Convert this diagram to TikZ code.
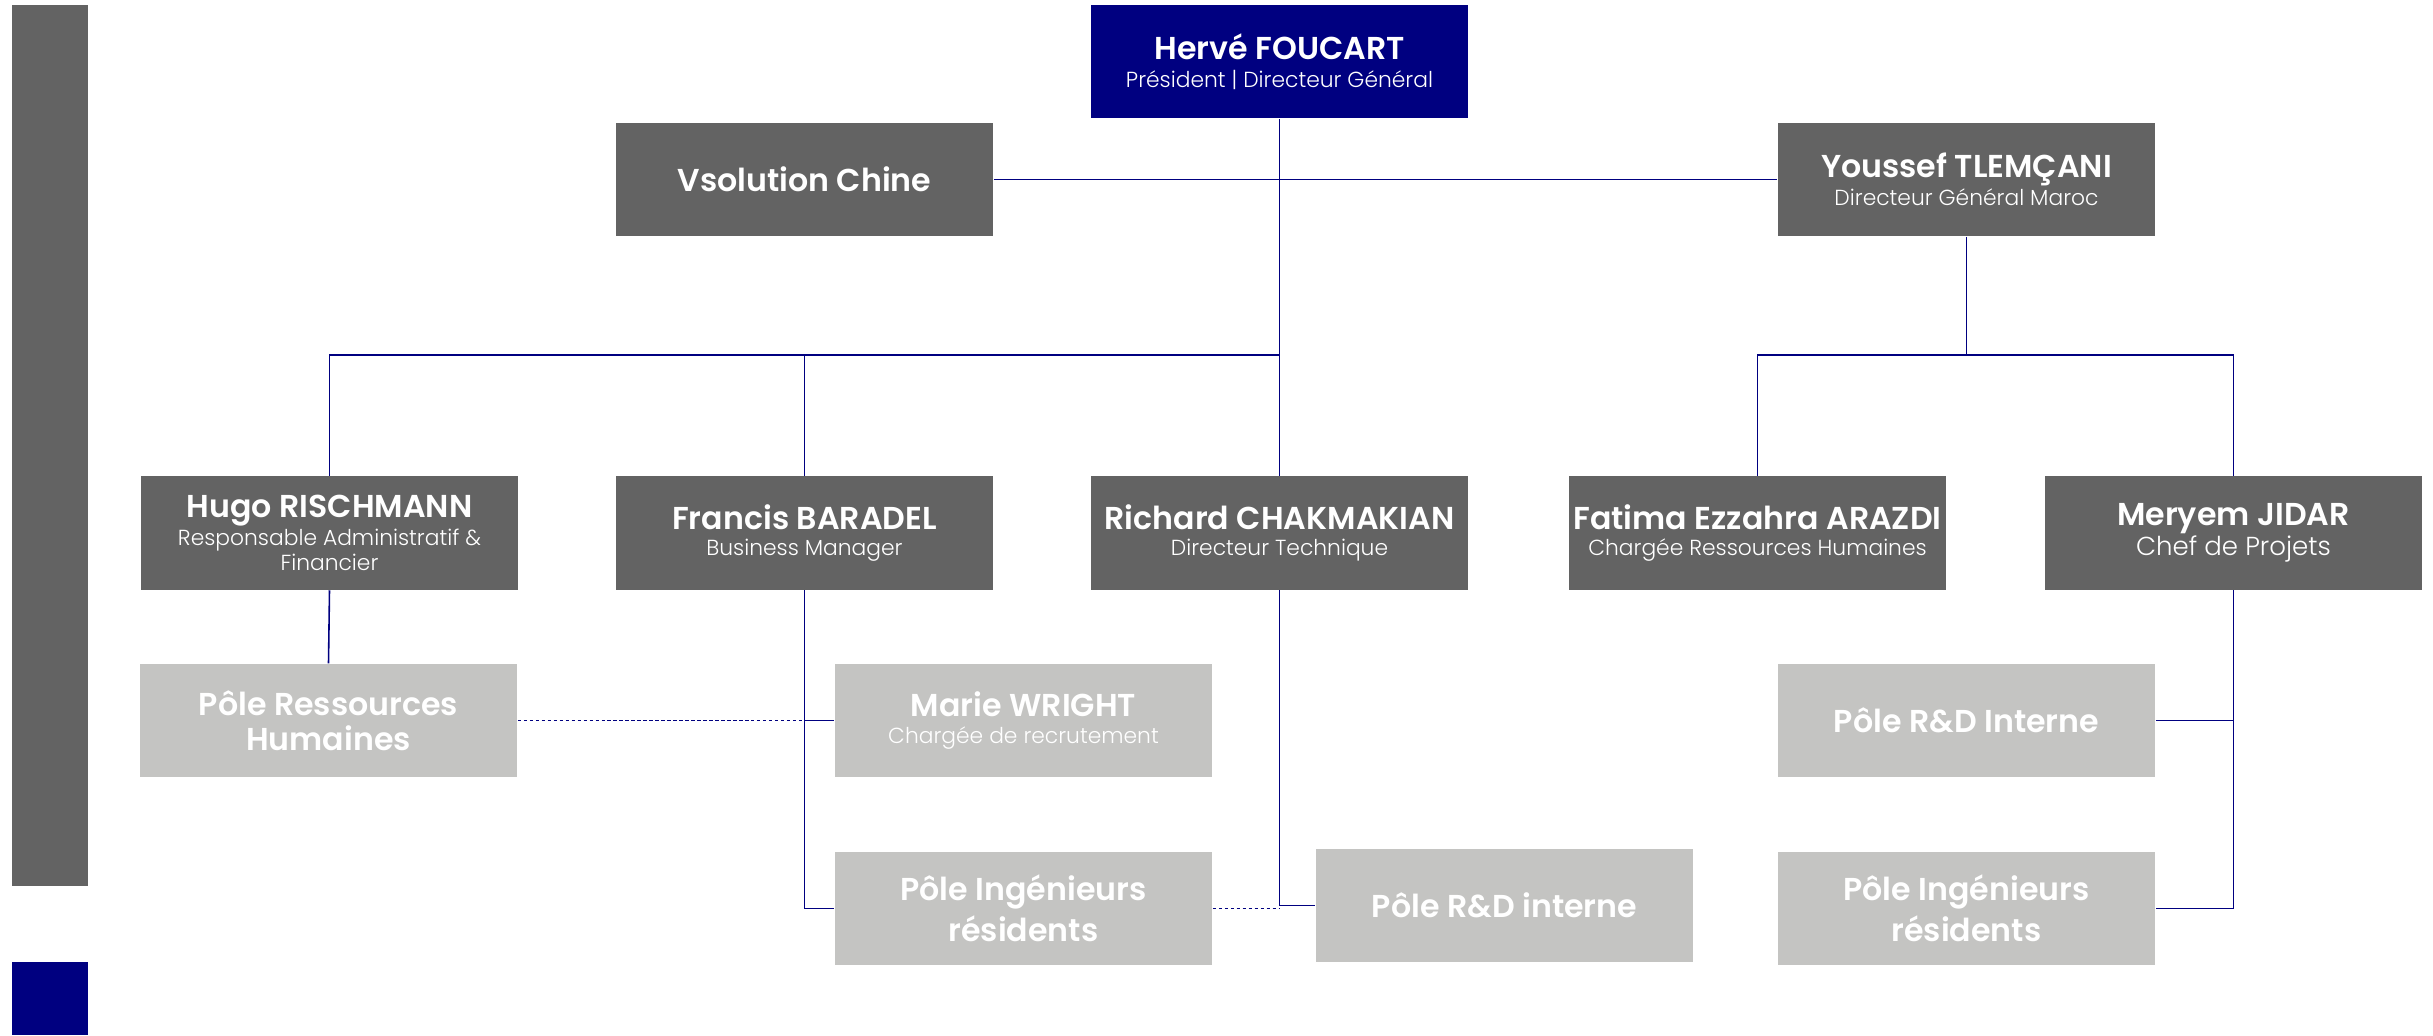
\documentclass[tikz,border=0pt]{standalone}
\usepackage{fontspec}
\setmainfont{Poppins}[BoldFont={Poppins SemiBold}]
\newfontfamily\lightfont{Poppins Light}
\definecolor{navy}{RGB}{0,0,128}
\definecolor{dgray}{RGB}{99,99,99}
\definecolor{lgray}{RGB}{196,196,194}
\tikzset{
  box/.style={minimum width=3.77cm,minimum height=1.13cm,inner sep=0pt,align=center,text=white,font=\fontsize{9}{9}\selectfont},
  dbox/.style={box,fill=dgray},
  lbox/.style={box,fill=lgray},
  topbox/.style={box,fill=navy},
  link/.style={draw=navy,line width=0.45pt},
  dlink/.style={link,dash pattern=on 1pt off 0.7pt}
}
\newcommand{\nmA}[1]{{\fontsize{9}{9}\selectfont\bfseries #1}}
\newcommand{\sbA}[1]{{\lightfont\fontsize{6.2}{7}\selectfont #1}}
\begin{document}
\begin{tikzpicture}[x=0.01cm,y=-0.01cm]
\useasboundingbox (0,0) rectangle (2433,1035);
\fill[dgray] (12,5) rectangle (88,886);
\fill[navy] (12,962) rectangle (88,1035);

\node[topbox] (herve) at (1279.5,61.5) {\nmA{Hervé FOUCART}\\[-1pt]\sbA{Président | Directeur Général}};
\node[dbox] (vsol) at (804.5,179.5) {\nmA{Vsolution Chine}};
\node[dbox] (youssef) at (1966.5,179.5) {\nmA{Youssef TLEMÇANI}\\[-1pt]\sbA{Directeur Général Maroc}};

\node[dbox] (hugo) at (329.5,533) {\nmA{Hugo RISCHMANN}\\[-1pt]\sbA{Responsable Administratif \&}\\[-2pt]\sbA{Financier}};
\node[dbox] (francis) at (804.5,533) {\nmA{Francis BARADEL}\\[-1.5pt]\sbA{Business Manager}};
\node[dbox] (richard) at (1279.5,533) {\nmA{Richard CHAKMAKIAN}\\[-1.5pt]\sbA{Directeur Technique}};
\node[dbox] (fatima) at (1757.5,533) {\nmA{Fatima Ezzahra ARAZDI}\\[-1.5pt]\sbA{Chargée Ressources Humaines}};
\node[dbox] (meryem) at (2233.5,533) {\nmA{Meryem JIDAR}\\[-0.5pt]{\lightfont\fontsize{7.4}{9}\selectfont Chef de Projets}};

\node[lbox] (poleRH) at (328.5,720.5) {\nmA{Pôle Ressources}\\[1pt]\nmA{Humaines}};
\node[lbox] (marie) at (1023.5,720.5) {\nmA{Marie WRIGHT}\\[-1.5pt]\sbA{Chargée de recrutement}};
\node[lbox] (poleRDI) at (1966.5,720.5) {\nmA{Pôle R\&D Interne}};

\node[lbox] (poleIng) at (1023.5,908.5) {\nmA{Pôle Ingénieurs}\\[1pt]\nmA{résidents}};
\node[lbox] (poleRD) at (1504.5,905.5) {\nmA{Pôle R\&D interne}};
\node[lbox] (poleIng2) at (1966.5,908.5) {\nmA{Pôle Ingénieurs}\\[1pt]\nmA{résidents}};

\coordinate (bus) at (1279.5,355);
\draw[link] (herve.south) -- (richard.north);
\draw[link] (vsol.east) -- (youssef.west);
\draw[link] (hugo.north) |- (bus);
\draw[link] (francis.north) -- (francis.north |- bus);
\draw[link] (youssef.south) -- (youssef.south |- bus);
\draw[link] (fatima.north) |- (meryem.north |- bus) -- (meryem.north);

\draw[link] (hugo.south) -- (poleRH.north);
\draw[link] (francis.south) |- (poleIng.west);
\draw[link] (marie.west) -- (marie.west -| francis.south);
\draw[dlink] (poleRH.east) -- (poleRH.east -| francis.south);

\draw[link] (richard.south) |- (poleRD.west);
\draw[dlink] (poleIng.east) -- (poleIng.east -| richard.south);

\draw[link] (meryem.south) |- (poleIng2.east);
\draw[link] (poleRDI.east) -- (poleRDI.east -| meryem.south);
\end{tikzpicture}
\end{document}
